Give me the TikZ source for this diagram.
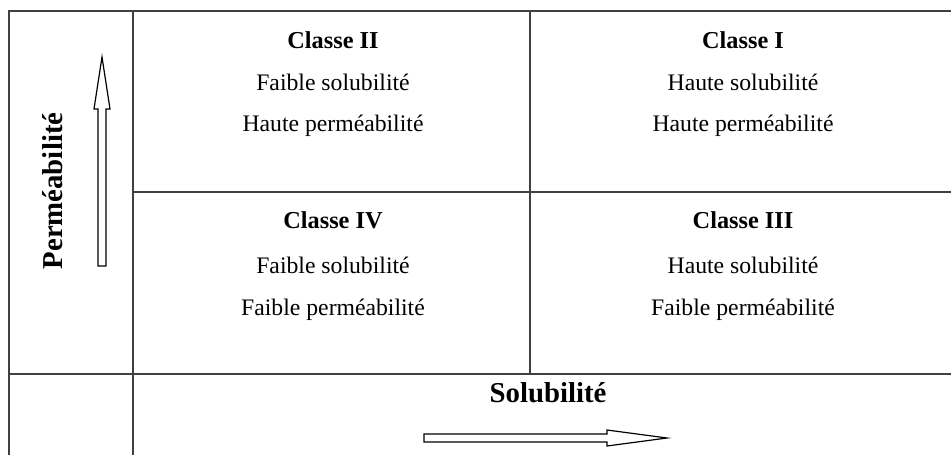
\documentclass[tikz,border=0pt]{standalone}
\usepackage{fontspec}
\setmainfont{Liberation Serif}
\usepackage{tikz}
\usetikzlibrary{positioning}
\newcommand\blockarrow[2]{% length, head length
  +(0,-4) -- +(#1-#2,-4) -- +(#1-#2,-8) -- +(#1,0)
  -- +(#1-#2,8) -- +(#1-#2,4) -- +(0,4) -- cycle
}
\tikzset{
  grid/.style={draw=black!75,line width=0.6pt},
  cell/.style={anchor=base,inner sep=0,font=\fontsize{11.85}{14}\selectfont},
  classe/.style={cell,font=\fontsize{12.15}{14}\selectfont\bfseries},
  axis/.style={cell,font=\fontsize{14.4}{17}\selectfont\bfseries},
}
\begin{document}
\begin{tikzpicture}[x=0.5pt,y=-0.5pt]
		\useasboundingbox (0,0) rectangle (951,455);

		% table lines
		\draw[grid] (9,455) -- (9,11) -- (951,11);
		\draw[grid] (133,11) -- (133,455);
		\draw[grid] (530,11) -- (530,374);
		\draw[grid] (133,192) -- (951,192);
		\draw[grid] (9,374) -- (951,374);

		% cells
		\node[classe] (II) at (333,48) {Classe II};
		\node[cell] (IIsol) at (333,90) {Faible solubilité};
		\node[cell] (IIperm) at (333,131) {Haute perméabilité};

		\node[classe] (I) at (743,48) {Classe I};
		\node[cell] (Isol) at (743,90) {Haute solubilité};
		\node[cell] (Iperm) at (743,131) {Haute perméabilité};

		\node[classe] (IV) at (333,228) {Classe IV};
		\node[cell] (IVsol) at (333,273) {Faible solubilité};
		\node[cell] (IVperm) at (333,315) {Faible perméabilité};

		\node[classe] (III) at (743,228) {Classe III};
		\node[cell] (IIIsol) at (743,273) {Haute solubilité};
		\node[cell] (IIIperm) at (743,315) {Faible perméabilité};

		% axes
		\node[axis,rotate=90] (perm) at (62,191) {Perméabilité};
		\node[axis] (sol) at (548,402) {Solubilité};

		\coordinate (permtail) at (102,266);
		\coordinate (soltail) at (424,438);
		\draw[line width=0.6pt,rotate around={90:(permtail)}] (permtail) \blockarrow{209}{52};
		\draw[line width=0.6pt] (soltail) \blockarrow{243}{60};
	\end{tikzpicture}
\end{document}
